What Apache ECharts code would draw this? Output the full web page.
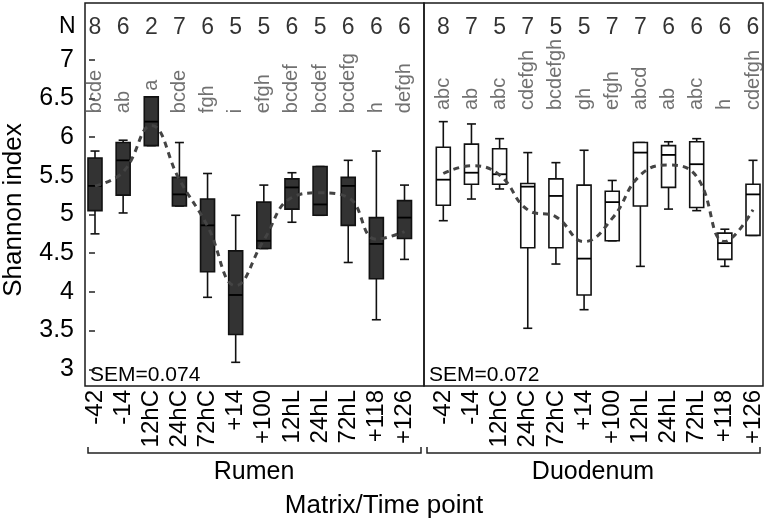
<!DOCTYPE html>
<html>
<head>
<meta charset="utf-8">
<script src="https://cdn.jsdelivr.net/npm/echarts@6/dist/echarts.min.js"></script>
<style>html,body{margin:0;padding:0;background:#fff;}#chart{width:767px;height:523px;}</style>
</head>
<body>
<div id="chart"></div>
<script>
// ---- data ----
const timePoints = ['-42','-14','12hC','24hC','72hC','+14','+100','12hL','24hL','72hL','+118','+126'];
const yTicks = [3, 3.5, 4, 4.5, 5, 5.5, 6, 6.5, 7];

const rumenMin = [4.75, 5.02, 5.89, 5.11, 3.93, 3.09, 4.56, 4.90, 4.99, 4.38, 3.64, 4.42];
const rumenQ1  = [5.05, 5.25, 5.89, 5.11, 4.26, 3.45, 4.56, 5.07, 4.99, 4.86, 4.17, 4.69];
const rumenMed = [5.37, 5.70, 6.20, 5.26, 4.86, 3.96, 4.66, 5.35, 5.13, 5.37, 4.62, 4.96];
const rumenQ3  = [5.73, 5.93, 6.52, 5.48, 5.20, 4.53, 5.16, 5.46, 5.62, 5.48, 4.96, 5.18];
const rumenMax = [5.82, 5.96, 6.52, 5.93, 5.53, 4.99, 5.38, 5.54, 5.62, 5.70, 5.82, 5.38];
const rumenMean = [5.37, 5.55, 6.15, 5.45, 4.85, 4.08, 4.67, 5.22, 5.28, 5.22, 4.68, 4.78];
const rumenN = [8, 6, 2, 7, 6, 5, 5, 6, 5, 6, 6, 6];
const rumenLetters = ['bcde','ab','a','bcde','fgh','i','efgh','bcdef','bcdef','bcdefg','h','defgh'];
const rumenSEM = 'SEM=0.074';

const duoMin = [4.92, 5.20, 5.33, 3.53, 4.36, 3.77, 4.66, 4.33, 5.07, 5.05, 4.33, 4.73];
const duoQ1  = [5.12, 5.39, 5.39, 4.57, 4.57, 3.96, 4.66, 5.11, 5.35, 5.09, 4.42, 4.73];
const duoMed = [5.45, 5.54, 5.52, 5.36, 5.24, 4.43, 5.16, 5.80, 5.77, 5.65, 4.63, 5.26];
const duoQ3  = [5.87, 5.91, 5.85, 5.40, 5.46, 5.38, 5.30, 5.93, 5.89, 5.94, 4.76, 5.39];
const duoMax = [6.20, 6.17, 5.98, 5.80, 5.67, 5.83, 5.44, 5.93, 5.94, 5.98, 4.81, 5.70];
const duoMean = [5.53, 5.63, 5.51, 5.06, 4.97, 4.65, 4.95, 5.51, 5.64, 5.49, 4.65, 5.06];
const duoN = [8, 7, 5, 7, 5, 5, 7, 7, 6, 6, 6, 6];
const duoLetters = ['abc','ab','abc','cdefgh','bcdefgh','gh','efgh','abcd','ab','abc','h','cdefgh'];
const duoSEM = 'SEM=0.072';

const panelNames = ['Rumen', 'Duodenum'];
const xTitle = 'Matrix/Time point';
const yTitle = 'Shannon index';

// ---- layout constants ----
const FONT = '"Liberation Sans", Arial, Helvetica, sans-serif';
const Y_MIN = 2.784, Y_MAX = 7.733;
const N_ROW = 7.41;
const X_RANGE = [[-0.3554, 11.693], [-0.6855, 11.355]];
const LETTER_BASE = [6.31, 6.35];

function boxData(mn, q1, md, q3, mx) {
  return mn.map((v, i) => [i, mn[i], q1[i], md[i], q3[i], mx[i]]);
}

function makeRender(fill) {
  return function (params, api) {
    const x = api.value(0);
    const pMin = api.coord([x, api.value(1)]);
    const pQ1 = api.coord([x, api.value(2)]);
    const pMed = api.coord([x, api.value(3)]);
    const pQ3 = api.coord([x, api.value(4)]);
    const pMax = api.coord([x, api.value(5)]);
    const cx = pMed[0], hw = 7, cw = 4.5;
    const ls = { stroke: '#111', lineWidth: 1.6 };
    return {
      type: 'group',
      children: [
        { type: 'line', shape: { x1: cx, y1: pMax[1], x2: cx, y2: pQ3[1] }, style: ls },
        { type: 'line', shape: { x1: cx, y1: pQ1[1], x2: cx, y2: pMin[1] }, style: ls },
        { type: 'line', shape: { x1: cx - cw, y1: pMax[1], x2: cx + cw, y2: pMax[1] }, style: ls },
        { type: 'line', shape: { x1: cx - cw, y1: pMin[1], x2: cx + cw, y2: pMin[1] }, style: ls },
        { type: 'rect', shape: { x: cx - hw, y: pQ3[1], width: 2 * hw, height: pQ1[1] - pQ3[1] },
          style: { fill: fill, stroke: '#111', lineWidth: 1.6 } },
        { type: 'line', shape: { x1: cx - hw, y1: pMed[1], x2: cx + hw, y2: pMed[1] },
          style: { stroke: '#000', lineWidth: 1.8 } }
      ]
    };
  };
}

function letterData(letters, mx, base) {
  return letters.map((l, i) => [i, Math.max(base, mx[i] + 0.08), l]);
}
function nData(ns) {
  return ns.map((n, i) => [i, N_ROW, String(n)]);
}

const panels = [
  { fill: '#333333', min: rumenMin, q1: rumenQ1, med: rumenMed, q3: rumenQ3, max: rumenMax, mean: rumenMean, n: rumenN, letters: rumenLetters },
  { fill: '#ffffff', min: duoMin, q1: duoQ1, med: duoMed, q3: duoQ3, max: duoMax, mean: duoMean, n: duoN, letters: duoLetters }
];

const series = [];
panels.forEach((p, k) => {
  series.push({
    type: 'custom', xAxisIndex: k, yAxisIndex: k,
    renderItem: makeRender(p.fill),
    encode: { x: 0, y: [1, 2, 3, 4, 5] },
    data: boxData(p.min, p.q1, p.med, p.q3, p.max),
    z: 2
  });
  series.push({
    type: 'line', xAxisIndex: k, yAxisIndex: k,
    data: p.mean.map((v, i) => [i, v]),
    smooth: 0.45, symbol: 'none',
    lineStyle: { color: '#444', width: 3, type: [6, 5] },
    z: 3
  });
  series.push({
    type: 'scatter', xAxisIndex: k, yAxisIndex: k,
    data: letterData(p.letters, p.max, LETTER_BASE[k]),
    symbolSize: 0, silent: true,
    label: { show: true, position: 'inside', formatter: d => d.data[2], rotate: 90,
             align: 'left', verticalAlign: 'middle',
             fontFamily: FONT, fontSize: 20, color: '#4d4d4d' },
    z: 4
  });
  series.push({
    type: 'scatter', xAxisIndex: k, yAxisIndex: k,
    data: nData(p.n),
    symbolSize: 0, silent: true,
    label: { show: true, position: 'inside', formatter: d => d.data[2],
             align: 'center', verticalAlign: 'middle',
             fontFamily: FONT, fontSize: 23, color: '#000' },
    z: 4
  });
});

const xIdx = timePoints.map((t, i) => i);

const option = {
  animation: false,
  backgroundColor: '#fff',
  grid: [
    { left: 85, top: 3, width: 339, height: 383, show: true, borderColor: '#1a1a1a', borderWidth: 1.5 },
    { left: 424, top: 3, width: 339, height: 383, show: true, borderColor: '#1a1a1a', borderWidth: 1.5 }
  ],
  xAxis: [0, 1].map(k => ({
    type: 'value', gridIndex: k, min: X_RANGE[k][0], max: X_RANGE[k][1],
    axisLine: { show: false }, axisTick: { show: false }, splitLine: { show: false },
    axisLabel: {
      customValues: xIdx, formatter: v => timePoints[Math.round(v)] || '',
      rotate: 90, margin: 4, fontFamily: FONT, fontSize: 24, color: '#000',
      padding: k === 0 ? [9, 0, 0, 0] : 0
    }
  })),
  yAxis: [
    { type: 'value', gridIndex: 0, min: Y_MIN, max: Y_MAX,
      axisLine: { show: false }, splitLine: { show: false },
      axisTick: { show: true, customValues: yTicks, length: 6, inside: false, lineStyle: { color: '#222', width: 1.5 } },
      axisLabel: { customValues: yTicks, formatter: v => String(v), margin: 11, fontFamily: FONT, fontSize: 25, color: '#000' } },
    { type: 'value', gridIndex: 1, min: Y_MIN, max: Y_MAX, show: false, splitLine: { show: false } }
  ],
  graphic: [
    { type: 'text', left: 59, top: 15, style: { text: 'N', font: '23px ' + FONT, fill: '#000' } },
    { type: 'text', x: 90, y: 375, style: { text: rumenSEM, font: '21px ' + FONT, fill: '#000', textVerticalAlign: 'middle' } },
    { type: 'text', x: 429, y: 375, style: { text: duoSEM, font: '21px ' + FONT, fill: '#000', textVerticalAlign: 'middle' } },
    { type: 'text', x: 14, y: 210, rotation: Math.PI / 2,
      style: { text: yTitle, font: '26px ' + FONT, fill: '#000', textAlign: 'center', textVerticalAlign: 'middle' } },
    { type: 'polyline', shape: { points: [[88, 447], [88, 453], [421, 453], [421, 447]] }, style: { stroke: '#222', lineWidth: 1.5, fill: null } },
    { type: 'polyline', shape: { points: [[427, 447], [427, 453], [760, 453], [760, 447]] }, style: { stroke: '#222', lineWidth: 1.5, fill: null } },
    { type: 'text', x: 254, y: 472, style: { text: panelNames[0], font: '25px ' + FONT, fill: '#000', textAlign: 'center', textVerticalAlign: 'middle' } },
    { type: 'text', x: 593, y: 472, style: { text: panelNames[1], font: '25px ' + FONT, fill: '#000', textAlign: 'center', textVerticalAlign: 'middle' } },
    { type: 'text', x: 384, y: 506, style: { text: xTitle, font: '26px ' + FONT, fill: '#000', textAlign: 'center', textVerticalAlign: 'middle' } }
  ],
  series: series
};

const chart = echarts.init(document.getElementById('chart'), null, { renderer: 'canvas' });
chart.setOption(option);
</script>
</body>
</html>
